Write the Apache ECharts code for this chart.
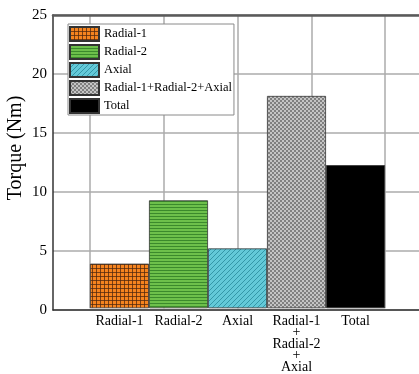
<!DOCTYPE html>
<html>
<head>
<meta charset="utf-8">
<script src="https://cdn.jsdelivr.net/npm/echarts@6/dist/echarts.min.js"></script>
<style>html,body{margin:0;padding:0;background:#fff}#c{width:419px;height:374px}</style>
</head>
<body>
<div id="c"></div>
<script>
const categories = ['Radial-1', 'Radial-2', 'Axial', 'Radial-1\n+\nRadial-2\n+\nAxial', 'Total'];
const seriesNames = ['Radial-1', 'Radial-2', 'Axial', 'Radial-1+Radial-2+Axial', 'Total'];
const torque = [3.8, 9.2, 5.1, 18.1, 12.2];
const yTicks = [0, 5, 10, 15, 20, 25];

const SERIF = '"Liberation Serif", "Times New Roman", serif';

function tile(w, h, draw) {
  const c = document.createElement('canvas');
  c.width = w; c.height = h;
  draw(c.getContext('2d'));
  return { image: c, repeat: 'repeat' };
}
const fills = [
  tile(4, 4, g => { g.fillStyle = '#F5841F'; g.fillRect(0,0,4,4); g.fillStyle = 'rgba(80,40,15,0.75)'; g.fillRect(0,0,4,1); g.fillRect(0,0,1,4); }),
  tile(1, 3, g => { g.fillStyle = '#6DC04B'; g.fillRect(0,0,1,3); g.fillStyle = '#3B8A2C'; g.fillRect(0,0,1,1); }),
  tile(5, 5, g => { g.fillStyle = '#63C9D8'; g.fillRect(0,0,5,5); g.fillStyle = '#3497A8'; for (let x=0;x<5;x++){ g.fillRect(x,(4-x+5)%5,1,1);} }),
  tile(4, 4, g => { g.fillStyle = '#c4c4c4'; g.fillRect(0,0,4,4); g.fillStyle = '#808080'; g.fillRect(0,0,2,2); g.fillRect(2,2,2,2); }),
  '#000000'
];

const chart = echarts.init(document.getElementById('c'), null, { renderer: 'canvas' });
const gridTop = 15, gridBottom = 64;
const option = {
  animation: false,
  backgroundColor: '#fff',
  grid: [
    { left: 53, right: -10, top: gridTop, bottom: gridBottom },
    { left: 90, right: 34, top: gridTop, bottom: gridBottom }
  ],
  legend: {
    orient: 'vertical', left: 68, top: 24,
    itemWidth: 29, itemHeight: 14, itemGap: 2,
    padding: [2, 2, 1, 1],
    borderColor: '#8a8a8a', borderWidth: 1, backgroundColor: '#fff',
    icon: 'rect',
    textStyle: { fontFamily: SERIF, fontSize: 12.5, color: '#000' },
    data: seriesNames, z: 10
  },
  xAxis: [
    { gridIndex: 0, type: 'value', min: 0, max: 1, position: 'bottom',
      axisLine: { show: true, lineStyle: { color: '#333', width: 1.5 } },
      axisTick: { show: false }, axisLabel: { show: false }, splitLine: { show: false } },
    { gridIndex: 0, type: 'value', min: 0, max: 1, position: 'top',
      axisLine: { show: true, lineStyle: { color: '#5a5a5a', width: 2.5 } },
      axisTick: { show: false }, axisLabel: { show: false }, splitLine: { show: false } },
    { gridIndex: 1, type: 'category', data: categories, position: 'bottom',
      axisLine: { show: false }, axisTick: { show: false },
      axisLabel: { fontFamily: SERIF, fontSize: 14, color: '#000', lineHeight: 11.5, margin: 7, interval: 0 } },
    { gridIndex: 1, type: 'value', min: 0, max: 4, interval: 1, position: 'top',
      axisLine: { show: false }, axisTick: { show: false }, axisLabel: { show: false },
      splitLine: { show: true, lineStyle: { color: '#ababab', width: 1.5 } } }
  ],
  yAxis: [
    { gridIndex: 0, type: 'value', min: 0, max: 25, interval: 5,
      axisLine: { show: true, lineStyle: { color: '#333', width: 1.5 } },
      axisTick: { show: false },
      axisLabel: { fontFamily: SERIF, fontSize: 15, color: '#000', margin: 6,
        formatter: v => yTicks.includes(v) ? String(v) : '' },
      splitLine: { show: true, lineStyle: { color: '#ababab', width: 1.5 } } },
    { gridIndex: 1, type: 'value', min: 0, max: 25, show: false }
  ],
  graphic: [{
    type: 'text', x: 15.5, y: 148, rotation: Math.PI / 2,
    style: { text: 'Torque (Nm)', font: '20px ' + SERIF, fill: '#000', align: 'center', verticalAlign: 'middle' }
  }],
  series: seriesNames.map((name, i) => ({
    name, type: 'bar', xAxisIndex: 2, yAxisIndex: 1,
    barWidth: '100%', barGap: '-100%',
    itemStyle: { color: fills[i], borderColor: '#333', borderWidth: 0.8 },
    data: categories.map((c, j) => j === i ? torque[i] : '-')
  }))
};
chart.setOption(option);
</script>
</body>
</html>
